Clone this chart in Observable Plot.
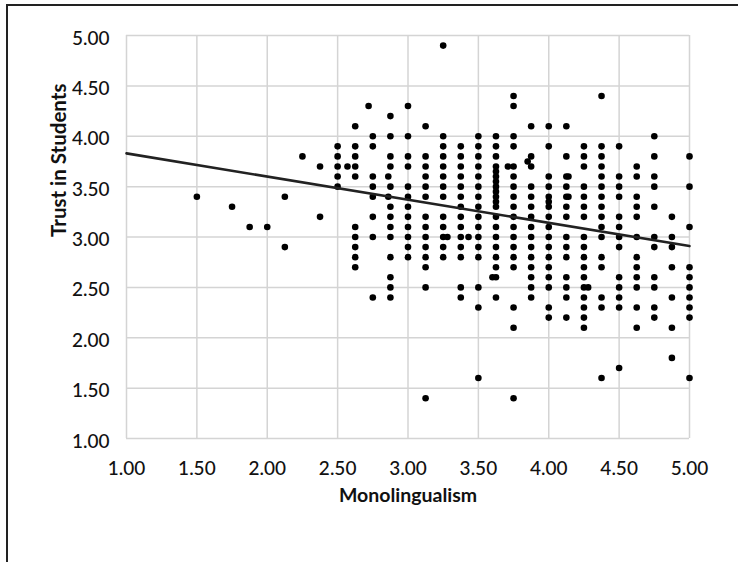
<!DOCTYPE html>
<html>
<head>
<meta charset="utf-8">
<script src="https://cdn.jsdelivr.net/npm/d3@7"></script>
<script src="https://cdn.jsdelivr.net/npm/@observablehq/plot@0.6"></script>
<style>
  html, body { margin: 0; padding: 0; background: #fff; }
  #wrap { position: relative; width: 738px; height: 562px; overflow: hidden; }
  #frame { position: absolute; left: 6px; top: 4px; width: 800px; height: 700px;
           border-left: 2px solid #222; border-top: 2px solid #222; }
  #chart { position: absolute; left: 0; top: 0; }
  svg { font-family: Lato, "Open Sans", sans-serif; }
</style>
</head>
<body>
<div id="wrap"><div id="frame"></div><div id="chart"></div></div>
<script>
// Monolingualism value of each column of points
const columnX = [1.5, 1.75, 1.875, 2.0, 2.125, 2.25, 2.375, 2.5, 2.57, 2.625, 2.72, 2.75, 2.86, 2.875, 3.0,
  3.125, 3.25, 3.28, 3.375, 3.43, 3.5, 3.6, 3.625, 3.71, 3.75, 3.85, 3.875, 4.0, 4.125, 4.14,
  4.25, 4.28, 4.375, 4.5, 4.625, 4.75, 4.875, 5.0];
// Trust in Students values of the points in each column
const columnY = [
  [3.4], [3.3], [3.1], [3.1], [3.4, 2.9], [3.8], [3.7, 3.2],
  [3.9, 3.8, 3.7, 3.6, 3.5],
  [3.7],
  [4.1, 3.9, 3.8, 3.7, 3.6, 3.1, 3.0, 2.9, 2.8, 2.7],
  [4.3],
  [4.0, 3.9, 3.6, 3.5, 3.4, 3.2, 3.0, 2.4],
  [3.6, 3.4],
  [4.2, 4.0, 3.8, 3.7, 3.5, 3.3, 3.2, 3.1, 3.0, 2.8, 2.6, 2.5, 2.4],
  [4.3, 4.0, 3.8, 3.7, 3.5, 3.4, 3.3, 3.2, 3.1, 3.0, 2.9, 2.8],
  [4.1, 3.8, 3.7, 3.6, 3.5, 3.4, 3.2, 3.1, 3.0, 2.9, 2.8, 2.7, 2.5, 1.4],
  [4.9, 4.0, 3.9, 3.8, 3.7, 3.6, 3.5, 3.4, 3.2, 3.1, 3.0, 2.9, 2.8],
  [3.0],
  [3.9, 3.8, 3.7, 3.6, 3.5, 3.4, 3.3, 3.2, 3.1, 3.0, 2.9, 2.8, 2.5, 2.4],
  [3.0],
  [4.0, 3.9, 3.8, 3.7, 3.6, 3.5, 3.4, 3.3, 3.2, 3.1, 3.0, 2.9, 2.8, 2.5, 2.3, 1.6],
  [2.6],
  [4.0, 3.9, 3.8, 3.7, 3.65, 3.6, 3.55, 3.5, 3.45, 3.4, 3.35, 3.3, 3.2, 3.1, 3.0, 2.9, 2.8, 2.7, 2.6, 2.4],
  [3.7],
  [4.4, 4.3, 4.0, 3.9, 3.7, 3.6, 3.5, 3.4, 3.3, 3.2, 3.1, 3.0, 2.9, 2.8, 2.7, 2.3, 2.1, 1.4],
  [3.75],
  [4.1, 3.8, 3.7, 3.5, 3.4, 3.3, 3.2, 3.1, 3.0, 2.9, 2.8, 2.7, 2.6, 2.5, 2.4],
  [4.1, 3.9, 3.6, 3.5, 3.4, 3.35, 3.3, 3.2, 3.1, 3.0, 2.9, 2.8, 2.7, 2.6, 2.5, 2.3, 2.2],
  [4.1, 3.8, 3.6, 3.5, 3.4, 3.3, 3.2, 3.0, 2.9, 2.8, 2.6, 2.5, 2.4, 2.2],
  [3.6, 3.4],
  [3.9, 3.8, 3.7, 3.5, 3.4, 3.3, 3.2, 3.0, 2.9, 2.8, 2.7, 2.6, 2.5, 2.4, 2.3, 2.2, 2.1],
  [2.5],
  [4.4, 3.9, 3.8, 3.7, 3.6, 3.5, 3.4, 3.3, 3.2, 3.1, 3.0, 2.8, 2.7, 2.4, 2.3, 1.6],
  [3.9, 3.6, 3.5, 3.4, 3.2, 3.1, 3.0, 2.9, 2.6, 2.5, 2.4, 2.3, 1.7],
  [3.7, 3.6, 3.4, 3.3, 3.2, 3.0, 2.8, 2.7, 2.6, 2.5, 2.3, 2.1],
  [4.0, 3.8, 3.6, 3.5, 3.3, 3.0, 2.9, 2.6, 2.5, 2.3, 2.2],
  [3.2, 3.0, 2.9, 2.7, 2.4, 2.1, 1.8],
  [3.8, 3.5, 3.1, 2.7, 2.6, 2.5, 2.4, 2.3, 2.2, 1.6]
];
// Trend line end points
const trendX = [1.0, 5.0];
const trendY = [3.83, 2.91];
// Tick values
const xTicks = [1, 1.5, 2, 2.5, 3, 3.5, 4, 4.5, 5];
const yTicks = [1, 1.5, 2, 2.5, 3, 3.5, 4, 4.5, 5];
const xTitle = "Monolingualism";
const yTitle = "Trust in Students";

const points = columnX.flatMap((x, i) => columnY[i].map(y => ({x, y})));
const trend = trendX.map((x, i) => ({x, y: trendY[i]}));

const chart = Plot.plot({
  width: 738,
  height: 562,
  marginLeft: 126,
  marginRight: 49,
  marginTop: 35,
  marginBottom: 124,
  x: {domain: [1, 5]},
  y: {domain: [1, 5]},
  style: {background: "transparent", fontFamily: "Lato, 'Open Sans', sans-serif", color: "#000"},
  marks: [
    Plot.ruleX(xTicks, {stroke: "#d4d4d4", strokeWidth: 1.5}),
    Plot.ruleY(yTicks, {stroke: "#d4d4d4", strokeWidth: 1.5}),
    Plot.axisX({ticks: xTicks, tickSize: 0, tickPadding: 23, tickFormat: d => d.toFixed(2), fontSize: 19, fontWeight: 500, fill: "#111", label: null}),
    Plot.axisY({ticks: yTicks, tickSize: 0, tickPadding: 17, dy: 3, tickFormat: d => d.toFixed(2), fontSize: 19, fontWeight: 500, fill: "#111", label: null}),
    Plot.dot(points, {x: "x", y: "y", r: 3.3, fill: "#000", stroke: null}),
    Plot.line(trend, {x: "x", y: "y", stroke: "#222", strokeWidth: 2.6}),
    Plot.text([xTitle], {frameAnchor: "bottom", dy: 63, fontSize: 19.5, fontWeight: "bold", fill: "#111"}),
    Plot.text([yTitle], {frameAnchor: "left", dx: -67, rotate: -90, fontSize: 20.5, fontWeight: "bold", fill: "#111"})
  ]
});
document.getElementById("chart").appendChild(chart);
</script>
</body>
</html>
